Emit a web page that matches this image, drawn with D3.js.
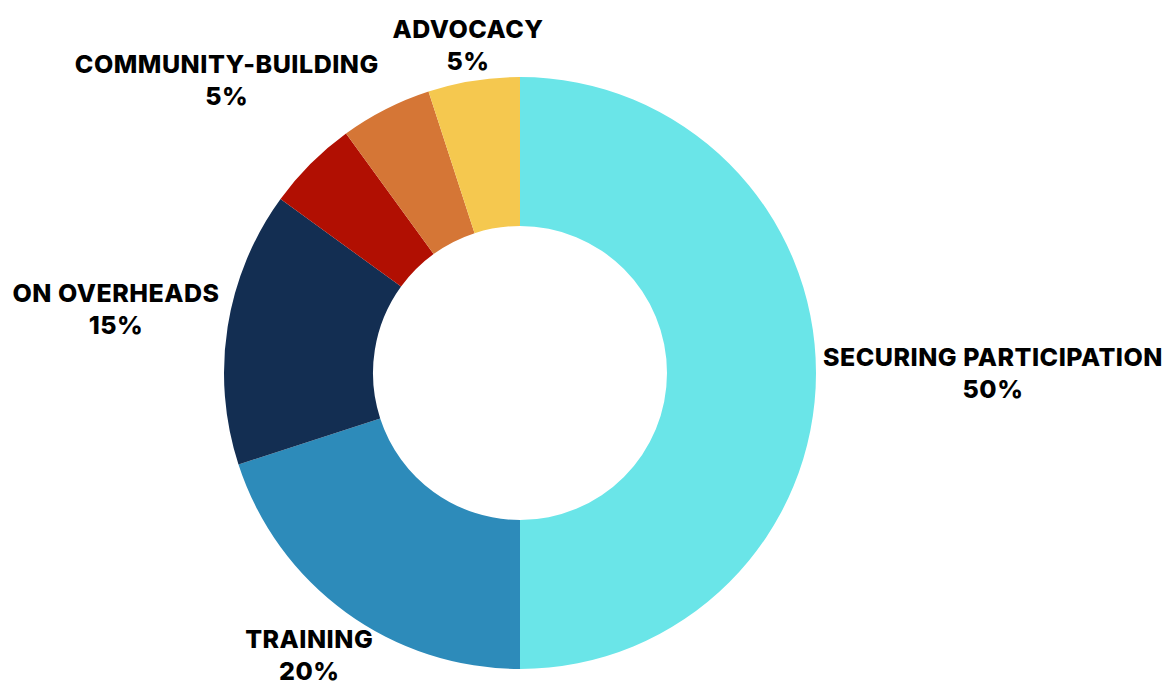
<!DOCTYPE html>
<html>
<head>
<meta charset="utf-8">
<script src="https://cdn.jsdelivr.net/npm/d3@7"></script>
<style>
    body { margin: 0; background: #fff; }
</style>
</head>
<body>
<div class="donut"></div>
<script>
//Chart data (the red slice carries no label in the original)
var categories = ["SECURING PARTICIPATION", "TRAINING", "ON OVERHEADS", "", "COMMUNITY-BUILDING", "ADVOCACY"];
var values = [50, 20, 15, 5, 5, 5];
var colors = ["#6ae5e8", "#2d8bba", "#132e52", "#b10f02", "#d57636", "#f5c84f"];

//Width and height
var w = 1165;
var h = 688;
var cx = 520;
var cy = 373;
var outerR = 296;
var innerR = 147;

//Label settings
var fontSize = 25;
var lineH = 32;
var capH = fontSize * 0.727;
var labelR = outerR + 7;
var gap = 12;

//Create SVG element
var svg = d3.select(".donut")
    .append("svg")
    .attr("width", w)
    .attr("height", h);

var total = d3.sum(values);
var pct = d3.format(".0%");

var pie = d3.pie()
    .sort(null)
    .value(d => d);

var arc = d3.arc()
    .innerRadius(innerR)
    .outerRadius(outerR);

var arcs = pie(values);

//Draw slices
svg.append("g")
    .attr("transform", "translate(" + cx + "," + cy + ")")
    .selectAll("path")
    .data(arcs)
    .enter()
    .append("path")
    .attr("d", arc)
    .attr("fill", (d, i) => colors[i]);

//Draw labels
var labels = svg.append("g")
    .attr("font-family", "Inter, 'DejaVu Sans', sans-serif")
    .attr("font-weight", 800)
    .attr("font-size", fontSize)
    .attr("letter-spacing", 0.5)
    .attr("fill", "#000");

//Box of given size pushed out along angle a until it just clears the ring
function boxAt(a, bw, bh) {
    var s = Math.sin(a), c = Math.cos(a);
    var lo = 0, hi = 1200;
    for (var k = 0; k < 40; k++) {
        var t = (lo + hi) / 2;
        var x0 = cx + t * s - bw / 2, y0 = cy - t * c - bh / 2;
        var nx = Math.max(x0, Math.min(cx, x0 + bw));
        var ny = Math.max(y0, Math.min(cy, y0 + bh));
        if (Math.hypot(nx - cx, ny - cy) >= labelR) hi = t; else lo = t;
    }
    return { x: cx + hi * s - bw / 2, y: cy - hi * c - bh / 2, w: bw, h: bh, a: a };
}

function hits(b, p) {
    return b.x < p.x + p.w + gap && b.x + b.w + gap > p.x &&
        b.y < p.y + p.h + gap && b.y + b.h + gap > p.y;
}

var placed = [];

arcs.slice().reverse().forEach(d => {
    var name = categories[d.index];
    if (!name) return;

    var text = labels.append("text")
        .attr("text-anchor", "middle");
    var t1 = text.append("tspan").text(name);
    var t2 = text.append("tspan").text(pct(d.value / total));

    var bw = Math.max(t1.node().getComputedTextLength(), t2.node().getComputedTextLength());
    var bh = lineH + capH;
    var a = (d.startAngle + d.endAngle) / 2;
    var box = boxAt(a, bw, bh);

    //Slide round the ring away from labels already placed
    for (var n = 0; n < 90; n++) {
        var other = placed.find(p => hits(box, p));
        if (!other) break;
        a += (a < other.a ? -1 : 1) * Math.PI / 180;
        box = boxAt(a, bw, bh);
    }

    //Keep inside the picture (room left for descenders)
    box.x = Math.max(2, Math.min(w - 2 - box.w, box.x));
    box.y = Math.max(2, Math.min(h - 8 - box.h, box.y));
    placed.push(box);

    t1.attr("x", box.x + box.w / 2).attr("y", box.y + capH);
    t2.attr("x", box.x + box.w / 2).attr("y", box.y + capH + lineH);
});
</script>
</body>
</html>
